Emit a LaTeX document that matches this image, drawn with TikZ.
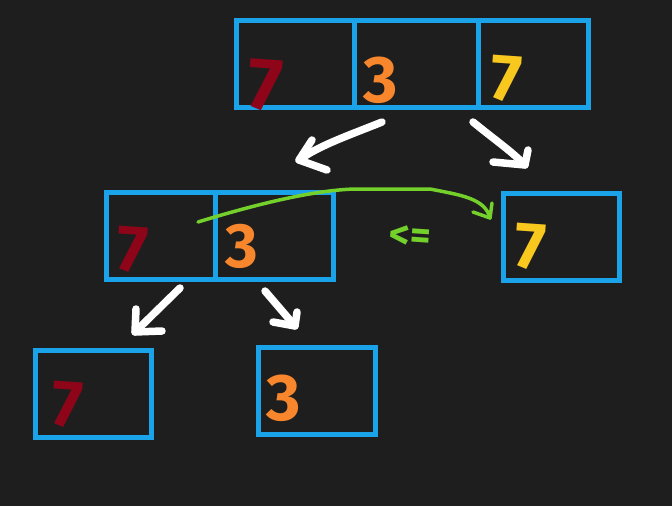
\documentclass[tikz,border=0pt]{standalone}
\usepackage{fontspec}
\setmainfont{Fira Sans}
\usetikzlibrary{arrows.meta}
\definecolor{bg}{HTML}{1E1E1E}
\definecolor{cellblue}{HTML}{1AA3E8}
\definecolor{dred}{HTML}{8E0519}
\definecolor{dorange}{HTML}{F7862C}
\definecolor{dyellow}{HTML}{F8C81F}
\definecolor{dgreen}{HTML}{74D12C}
\tikzset{
  cell/.style={draw=cellblue, line width=5pt, minimum height=87pt, inner sep=0pt},
  digit/.style={inner sep=0pt, font=\fontsize{66}{70}\selectfont\bfseries},
  warrow/.style={draw=white, line width=7.5pt, line cap=round, line join=round},
  garrow/.style={draw=dgreen, line width=3.5pt, line cap=round, line join=round},
}
\begin{document}
\begin{tikzpicture}[x=1pt,y=-1pt]
\fill[bg] (0,0) rectangle (672,506);
\useasboundingbox (0,0) rectangle (672,506);
% top row
\node[cell, minimum width=118pt] (t1) at (295,64) {};
\node[cell, minimum width=124pt] (t2) at (416,64) {};
\node[cell, minimum width=110pt] (t3) at (533,64) {};
% middle
\node[cell, minimum width=109pt] (m1) at (160.5,235.5) {};
\node[cell, minimum width=118pt] (m2) at (274,235.5) {};
\node[cell, minimum width=116pt] (r1) at (561,236.5) {};
% bottom
\node[cell, minimum width=116pt] (b1) at (93,393.5) {};
\node[cell, minimum width=117pt] (b2) at (316.5,390.5) {};
% digits
\node[digit, text=dred, scale=1.12, rotate=-4] (dt1) at (265,85) {7};
\node[digit, text=dorange] (dt2) at (381,80) {3};
\node[digit, text=dyellow, rotate=-4] (dt3) at (506,79) {7};
\node[digit, text=dred, rotate=-4] (dm1) at (132,250) {7};
\node[digit, text=dorange, scale=0.95] (dm2) at (242,246) {3};
\node[digit, text=dyellow, rotate=-4] (dr1) at (530,247) {7};
\node[digit, text=dred, rotate=-4] (db1) at (67,405) {7};
\node[digit, text=dorange] (db2) at (284,398) {3};
\node[text=dgreen, inner sep=0pt, font=\fontsize{40}{42}\selectfont\bfseries, rotate=-4] (le) at (410,237) {<=};
% white arrows
\coordinate (a1s) at (382,122); \coordinate (a1t) at (299,160);
\coordinate (a1b) at (312,140); \coordinate (a1c) at (327,170);
\coordinate (a2s) at (473,122); \coordinate (a2t) at (525,165);
\coordinate (a2b) at (528,150); \coordinate (a2c) at (493,162);
\coordinate (a3s) at (180,288); \coordinate (a3t) at (135,332);
\coordinate (a3b) at (136,309); \coordinate (a3c) at (162,331);
\coordinate (a4s) at (265,291); \coordinate (a4t) at (295,326);
\coordinate (a4b) at (297,312); \coordinate (a4c) at (273,322);
\draw[warrow] (a1s) .. controls (350,135) and (320,145) .. (a1t);
\draw[warrow] (a1b) -- (a1t) -- (a1c);
\draw[warrow] (a2s) .. controls (495,140) and (510,150) .. (a2t);
\draw[warrow] (a2b) -- (a2t) -- (a2c);
\draw[warrow] (a3s) -- (a3t);
\draw[warrow] (a3b) -- (a3t) -- (a3c);
\draw[warrow] (a4s) -- (a4t);
\draw[warrow] (a4b) -- (a4t) -- (a4c);
% green arrow
\coordinate (gs) at (198,222);
\coordinate (gt) at (490,218);
\coordinate (gb) at (473,212);
\coordinate (gc) at (492,203);
\draw[garrow] (gs) .. controls (270,200) and (320,190) .. (355,189) -- (430,189) .. controls (460,195) and (485,198) .. (gt);
\draw[garrow] (gb) -- (gt) -- (gc);
\end{tikzpicture}
\end{document}
